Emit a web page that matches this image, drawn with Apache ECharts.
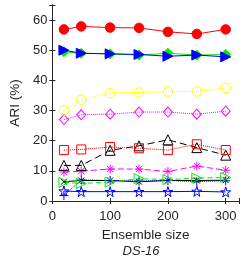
<!DOCTYPE html>
<html><head><meta charset="utf-8">
<script src="https://cdn.jsdelivr.net/npm/echarts@6/dist/echarts.min.js"></script>
<style>html,body{margin:0;padding:0;background:#fff}#c{width:242px;height:259px}</style>
</head><body><div id="c"></div>
<script>
const sizes = [20, 50, 100, 150, 200, 250, 300];
const redCircle = [56.9, 57.9, 57.5, 57.4, 56.1, 55.4, 56.9];
const greenDiamond = [49.5, 49.0, 48.8, 48.4, 49.0, 48.4, 48.6];
const blueTriangle = [50.0, 49.0, 48.8, 48.6, 48.0, 48.4, 47.8];
const yellowCircle = [30.0, 33.6, 35.8, 36.0, 36.3, 36.3, 37.5];
const magentaDiamond = [27.0, 28.6, 28.8, 29.5, 29.5, 28.8, 29.8];
const redSquare = [16.9, 17.1, 17.9, 17.5, 16.9, 18.8, 16.9];
const blackTriangle = [11.8, 11.8, 16.8, 18.3, 20.3, 17.7, 15.2];
const magentaAsterisk = [9.6, 9.9, 10.6, 10.6, 9.8, 11.6, 10.2];
const greenOpenTri = [6.2, 5.8, 6.3, 7.4, 7.1, 7.6, 7.8];
const blackX = [6.4, 6.8, 6.8, 6.4, 6.8, 6.8, 6.9];
const bluePlus = [1.8, 7.0, 6.8, 6.6, 6.8, 6.4, 6.7];
const blueStar = [3.3, 3.1, 3.1, 3.1, 3.1, 3.2, 3.0];
const yTicks = [0, 10, 20, 30, 40, 50, 60];
const xTicks = [0, 100, 200, 300];

const STAR = 'path://M50,0 L61,35 L98,35 L68,57 L79,91 L50,70 L21,91 L32,57 L2,35 L39,35 Z';
const AST = 'path://M0,50 L100,50 M50,0 L50,100 M15,15 L85,85 M85,15 L15,85';
const PLUS = 'path://M0,50 L100,50 M50,0 L50,100';
const XS = 'path://M0,0 L100,100 M100,0 L0,100';

function mk(data, color, lineType, symbol, size, filled, rotate) {
  return {
    type: 'line',
    data: sizes.map((x, i) => [x, data[i]]),
    symbol: symbol,
    symbolSize: size,
    symbolRotate: rotate || 0,
    showAllSymbol: true,
    lineStyle: { color: color, width: 1, type: lineType },
    itemStyle: filled ? { color: color, borderColor: color, borderWidth: 1 }
                      : { color: 'rgba(0,0,0,0)', borderColor: color, borderWidth: 1 },
    emphasis: { disabled: true },
    animation: false,
    z: 2
  };
}

const FONT = 'Liberation Sans, Arial, sans-serif';
const lbl = { color: '#262626', fontSize: 13, fontFamily: FONT };
const chart = echarts.init(document.getElementById('c'));
chart.setOption({
  backgroundColor: '#fff',
  animation: false,
  title: {
    text: 'DS-16', left: 141, top: 245, padding: 0, textAlign: 'center',
    textStyle: { fontSize: 13, fontStyle: 'italic', fontWeight: 'normal', color: '#262626', fontFamily: FONT }
  },
  grid: { left: 44, right: 1, top: 5, bottom: 58, containLabel: false },
  xAxis: [{
    type: 'value', min: 0, max: 323, interval: 100,
    name: 'Ensemble size', nameLocation: 'middle', nameGap: 25,
    nameTextStyle: { color: '#262626', fontSize: 13.5, fontFamily: FONT },
    axisLine: { show: true, lineStyle: { color: '#262626', width: 1 } },
    axisTick: { show: true, inside: true, length: 3, lineStyle: { color: '#262626' } },
    axisLabel: Object.assign({ margin: 9, formatter: v => xTicks.includes(v) ? String(v) : '' }, lbl),
    splitLine: { show: false }
  }, {
    type: 'value', min: 0, max: 323, interval: 100, position: 'top',
    axisLine: { show: true, lineStyle: { color: '#262626', width: 1 } },
    axisTick: { show: true, inside: true, length: 3, lineStyle: { color: '#262626' } },
    axisLabel: { show: false }, splitLine: { show: false }
  }],
  yAxis: [{
    type: 'value', min: 0, max: 65, interval: 10,
    name: 'ARI (%)', nameLocation: 'middle', nameGap: 24,
    nameTextStyle: { color: '#262626', fontSize: 13.5, fontFamily: FONT },
    axisLine: { show: true, lineStyle: { color: '#262626', width: 1 } },
    axisTick: { show: true, inside: true, length: 3, lineStyle: { color: '#262626' } },
    axisLabel: Object.assign({ margin: 5, formatter: v => yTicks.includes(v) ? String(v) : '' }, lbl),
    splitLine: { show: false }
  }, {
    type: 'value', min: 0, max: 65, interval: 10, position: 'right',
    axisLine: { show: true, lineStyle: { color: '#262626', width: 1 } },
    axisTick: { show: true, inside: true, length: 3, lineStyle: { color: '#262626' } },
    axisLabel: { show: false }, splitLine: { show: false }
  }],
  series: [
    mk(blueStar, '#0000ff', 'solid', STAR, 10, false),
    mk(bluePlus, '#0000ff', 'dotted', PLUS, 9, false),
    mk(blackX, '#000000', 'solid', XS, 6, false),
    mk(greenOpenTri, '#00ee00', [5, 3], 'triangle', 10, false, -90),
    mk(magentaAsterisk, '#ff00ff', [6, 3], AST, 9, false),
    mk(blackTriangle, '#000000', [7, 4], 'triangle', 10, false),
    mk(redSquare, '#ff0000', 'dotted', 'rect', 9, false),
    mk(magentaDiamond, '#ff00ff', 'dotted', 'diamond', [9, 10], false),
    mk(yellowCircle, '#ffff00', 'dotted', 'circle', 9.5, false),
    mk(greenDiamond, '#00ee00', 'solid', 'diamond', 10, true),
    mk(blueTriangle, '#0000ff', 'solid', 'triangle', 10, true, -90),
    mk(redCircle, '#ff0000', 'solid', 'circle', 9.5, true)
  ]
});
</script></body></html>
